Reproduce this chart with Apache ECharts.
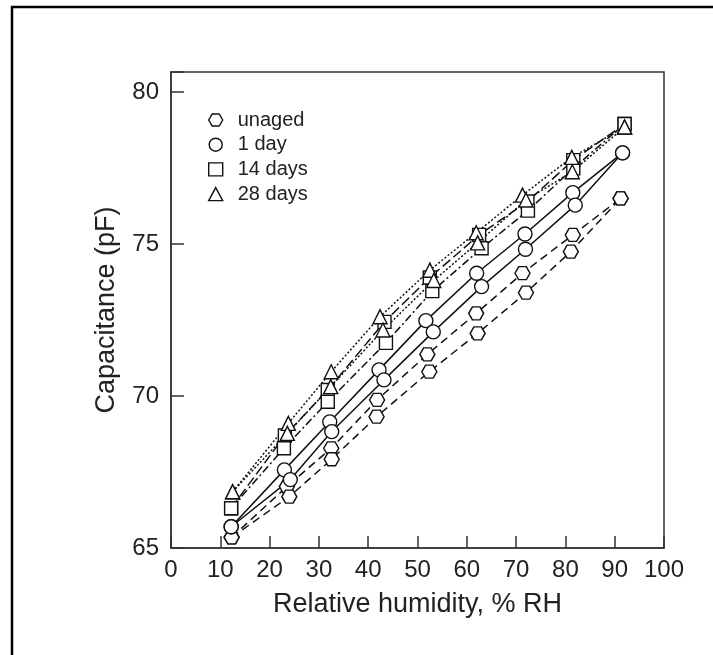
<!DOCTYPE html>
<html>
<head>
<meta charset="utf-8">
<script src="https://cdn.jsdelivr.net/npm/echarts@6/dist/echarts.min.js"></script>
<style>
html,body{margin:0;padding:0;background:#fff;}
#chart{width:713px;height:655px;}
</style>
</head>
<body>
<div id="chart"></div>
<script>
// ---- data ----
var legendNames = ['unaged', '1 day', '14 days', '28 days'];
var xTicks = [0, 10, 20, 30, 40, 50, 60, 70, 80, 90, 100];
var yTicks = [65, 70, 75, 80];

var rhUnagedA = [12.3, 23.5, 32.5, 41.8, 52.0, 61.9, 71.3, 81.5, 91.2];
var capUnagedA = [65.35, 67.02, 68.28, 69.87, 71.37, 72.72, 74.04, 75.30, 76.50];
var rhUnagedB = [12.3, 24.0, 32.6, 41.7, 52.4, 62.2, 72.0, 81.1, 91.2];
var capUnagedB = [65.35, 66.69, 67.92, 69.32, 70.80, 72.06, 73.40, 74.75, 76.50];

var rh1dA = [12.2, 23.0, 32.2, 42.2, 51.7, 62.0, 71.8, 81.5, 91.6];
var cap1dA = [65.70, 67.57, 69.15, 70.86, 72.48, 74.04, 75.33, 76.69, 78.00];
var rh1dB = [12.2, 24.2, 32.6, 43.2, 53.2, 63.0, 71.9, 82.0, 91.6];
var cap1dB = [65.70, 67.25, 68.83, 70.53, 72.11, 73.60, 74.83, 76.28, 78.00];

var rh14A = [12.2, 23.1, 31.8, 43.3, 52.5, 62.5, 72.3, 81.6, 92.0];
var cap14A = [66.31, 68.70, 70.20, 72.44, 73.90, 75.30, 76.40, 77.76, 78.95];
var rh14B = [12.2, 22.9, 31.8, 43.6, 53.0, 63.0, 72.4, 81.6, 92.0];
var cap14B = [66.31, 68.28, 69.81, 71.75, 73.45, 74.86, 76.10, 77.49, 78.95];

var rh28A = [12.5, 23.8, 32.5, 42.4, 52.5, 61.9, 71.3, 81.3, 92.0];
var cap28A = [66.85, 69.10, 70.80, 72.61, 74.14, 75.37, 76.61, 77.85, 78.85];
var rh28B = [12.5, 23.6, 32.4, 43.0, 53.3, 62.2, 72.0, 81.4, 92.0];
var cap28B = [66.85, 68.77, 70.31, 72.17, 73.80, 75.04, 76.45, 77.38, 78.85];

// ---- styling ----
var HEX = 'path://M-0.5,-0.866L0.5,-0.866L1,0L0.5,0.866L-0.5,0.866L-1,0Z';
var TXT = '#222';
var FONT = 'Liberation Sans, Arial, sans-serif';

function pairs(xs, ys) { return xs.map(function (x, i) { return [x, ys[i]]; }); }

function mk(name, xs, ys, symbol, dash, size) {
  return {
    name: name,
    type: 'line',
    data: pairs(xs, ys),
    symbol: symbol,
    symbolSize: size,
    showAllSymbol: true,
    animation: false,
    lineStyle: { color: '#111', width: 1.5, type: dash },
    itemStyle: { color: '#fff', borderColor: '#111', borderWidth: 1.4 },
    emphasis: { disabled: true },
    z: 2
  };
}

var series = [
  mk(legendNames[0], rhUnagedA, capUnagedA, HEX, [8, 5], [15, 13]),
  mk(legendNames[0], rhUnagedB, capUnagedB, HEX, [8, 5], [15, 13]),
  mk(legendNames[1], rh1dA, cap1dA, 'circle', 'solid', 14),
  mk(legendNames[1], rh1dB, cap1dB, 'circle', 'solid', 14),
  mk(legendNames[2], rh14A, cap14A, 'rect', [10, 4], 13),
  mk(legendNames[2], rh14B, cap14B, 'rect', [8, 3, 2, 3], 13),
  mk(legendNames[3], rh28A, cap28A, 'triangle', [2, 2], 14),
  mk(legendNames[3], rh28B, cap28B, 'triangle', [2, 2], 14)
];

var chart = echarts.init(document.getElementById('chart'), null, { renderer: 'canvas' });
chart.setOption({
  backgroundColor: '#fff',
  animation: false,
  graphic: [{
    type: 'rect',
    shape: { x: 12, y: 7, width: 900, height: 900 },
    style: { fill: 'none', stroke: '#000', lineWidth: 2.5 },
    silent: true
  }],
  grid: {
    left: 171, right: 49, top: 72, bottom: 107,
    show: true, borderColor: '#333', borderWidth: 1.5, backgroundColor: 'transparent'
  },
  legend: {
    data: legendNames.map(function (n, i) {
      return { name: n, icon: [HEX, 'circle', 'rect', 'triangle'][i] };
    }),
    orient: 'vertical',
    left: 203,
    top: 105,
    itemWidth: 14,
    itemHeight: 13,
    itemGap: 4.7,
    selectedMode: false,
    itemStyle: { color: '#fff', borderColor: '#111', borderWidth: 1.4 },
    textStyle: { fontFamily: FONT, fontSize: 20, color: TXT, padding: [0, 0, 0, 10] }
  },
  xAxis: {
    type: 'value',
    min: xTicks[0], max: xTicks[xTicks.length - 1], interval: 10,
    name: 'Relative humidity, % RH',
    nameLocation: 'middle',
    nameGap: 43,
    nameTextStyle: { fontFamily: FONT, fontSize: 27, color: TXT },
    axisLine: { lineStyle: { color: '#333', width: 1.5 } },
    axisTick: { inside: true, length: 12, lineStyle: { color: '#333', width: 1.5 } },
    axisLabel: { fontFamily: FONT, fontSize: 24, color: TXT, margin: 10 },
    splitLine: { show: false }
  },
  yAxis: {
    type: 'value',
    min: yTicks[0], max: 80.66, interval: 5,
    name: 'Capacitance (pF)',
    nameLocation: 'middle',
    nameGap: 51,
    nameTextStyle: { fontFamily: FONT, fontSize: 27, color: TXT },
    axisLine: { lineStyle: { color: '#333', width: 1.5 } },
    axisTick: { inside: true, length: 13, lineStyle: { color: '#333', width: 1.5 } },
    axisLabel: {
      fontFamily: FONT, fontSize: 24, color: TXT, margin: 12,
      formatter: function (v) { return yTicks.indexOf(v) >= 0 ? String(v) : ''; }
    },
    splitLine: { show: false }
  },
  series: series
});
</script>
</body>
</html>
